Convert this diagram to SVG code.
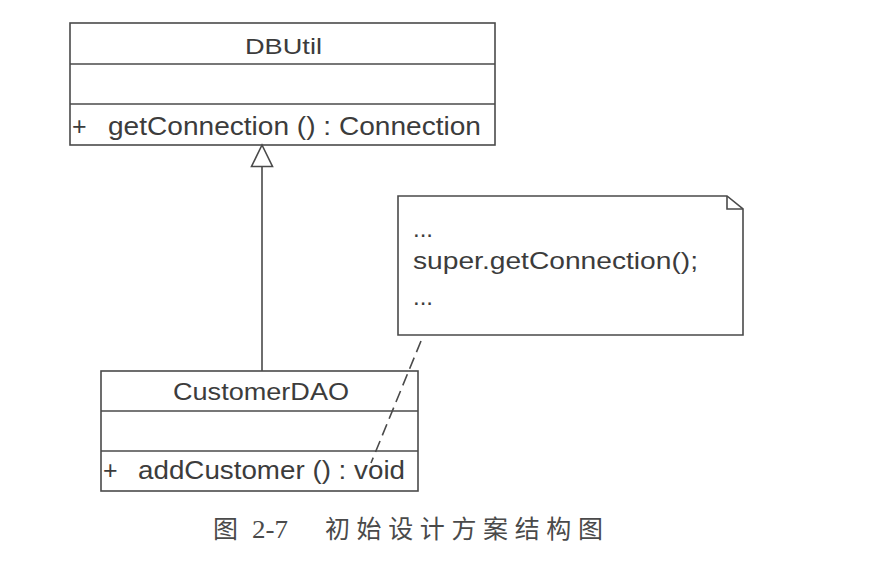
<svg xmlns="http://www.w3.org/2000/svg" width="888" height="570" viewBox="0 0 888 570">
<style>
.box{fill:#ffffff;stroke:#4a4a4a;stroke-width:1.6}
.ln{fill:none;stroke:#4a4a4a;stroke-width:1.6}
.t{font-family:"Liberation Sans",Arial,sans-serif;fill:#3c3c3c}
.cap{font-family:"Liberation Serif","Noto Sans CJK SC",serif;fill:#4a4a4a;font-size:25px}
</style>
<rect width="888" height="570" fill="#ffffff"/>
<g id="DBUtil">
<rect class="box" x="70" y="23" width="425" height="122"/>
<line class="ln" x1="70" y1="64" x2="495" y2="64"/>
<line class="ln" x1="70" y1="104" x2="495" y2="104"/>
<text class="t" x="283.5" y="54" font-size="22.5" text-anchor="middle" textLength="77" lengthAdjust="spacingAndGlyphs">DBUtil</text>
<text class="t" x="72" y="135" font-size="25">+</text>
<text class="t" x="108" y="135" font-size="25" textLength="373" lengthAdjust="spacingAndGlyphs">getConnection () : Connection</text>
</g>
<g id="CustomerDAO">
<rect class="box" x="101" y="371" width="317" height="120"/>
<line class="ln" x1="101" y1="411" x2="418" y2="411"/>
<line class="ln" x1="101" y1="451" x2="418" y2="451"/>
<text class="t" x="261" y="400" font-size="24" text-anchor="middle" textLength="176" lengthAdjust="spacingAndGlyphs">CustomerDAO</text>
<text class="t" x="103" y="479" font-size="25">+</text>
<text class="t" x="138" y="479" font-size="25" textLength="267" lengthAdjust="spacingAndGlyphs">addCustomer () : void</text>
</g>
<g id="note">
<path class="box" d="M398,196 H727 L743,209 V335 H398 Z"/>
<path class="ln" d="M727,196 V209 H743"/>
<text class="t" x="413" y="237" font-size="24">...</text>
<text class="t" x="413" y="269" font-size="24" textLength="285" lengthAdjust="spacingAndGlyphs">super.getConnection();</text>
<text class="t" x="413" y="305" font-size="24">...</text>
</g>
<g id="connectors">
<line class="ln" x1="262" y1="166.5" x2="262" y2="371"/>
<polygon class="box" points="262,145 251.5,166.5 272.5,166.5"/>
<line class="ln" x1="421" y1="341" x2="371" y2="463" stroke-dasharray="12,6"/>
</g>
<g id="caption">
<text class="cap" x="213" y="538">图</text>
<text class="cap" x="252" y="538" textLength="36" lengthAdjust="spacingAndGlyphs">2-7</text>
<text class="cap" x="325" y="538" textLength="278" lengthAdjust="spacing">初始设计方案结构图</text>
</g>
</svg>
